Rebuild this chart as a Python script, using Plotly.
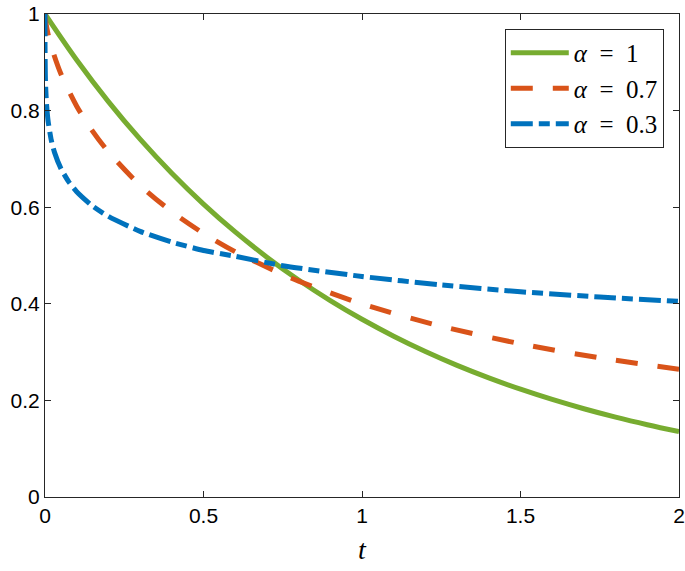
import plotly.graph_objects as go

# alpha = 1
t_a1 = [0, 0.1, 0.2, 0.3, 0.4, 0.5, 0.6, 0.7, 0.8, 0.9, 1.0, 1.1, 1.2, 1.3, 1.4, 1.5, 1.6, 1.7, 1.8, 1.9, 2.0]
y_a1 = [1.0, 0.9048, 0.8187, 0.7408, 0.6703, 0.6065, 0.5488, 0.4966, 0.4493, 0.4066, 0.3679, 0.3329, 0.3012,
        0.2725, 0.2466, 0.2231, 0.2019, 0.1827, 0.1653, 0.1496, 0.1353]

# alpha = 0.7
t_a07 = [0, 0.001, 0.005, 0.01, 0.02, 0.05, 0.1, 0.15, 0.2, 0.3, 0.4, 0.5, 0.6, 0.75, 0.8, 1.0, 1.25, 1.5, 1.75, 2.0]
y_a07 = [1.0, 0.9913, 0.9735, 0.9575, 0.9322, 0.8762, 0.8091, 0.7575, 0.7146, 0.6453, 0.5907, 0.5458, 0.5079,
         0.4608, 0.4471, 0.3997, 0.3535, 0.3172, 0.2881, 0.2646]

# alpha = 0.3
t_a03 = [0, 0.0001, 0.001, 0.002, 0.005, 0.01, 0.02, 0.03, 0.05, 0.075, 0.1, 0.15, 0.2, 0.3, 0.4, 0.5, 0.6,
         0.75, 1.0, 1.25, 1.5, 1.75, 2.0]
y_a03 = [1.0, 0.9339, 0.8756, 0.8508, 0.8118, 0.7773, 0.7383, 0.7135, 0.6803, 0.6525, 0.6321, 0.6024, 0.5809,
         0.5500, 0.5278, 0.5104, 0.4985, 0.4789, 0.4566, 0.4390, 0.4250, 0.4140, 0.4050]

labels = ["<i>α</i>\u2002=\u20021", "<i>α</i>\u2002=\u20020.7", "<i>α</i>\u2002=\u20020.3"]

fig = go.Figure()
fig.add_trace(go.Scatter(x=t_a1, y=y_a1, mode="lines", name=labels[0],
                         line=dict(color="#77AC30", width=5, shape="spline", smoothing=1)))
fig.add_trace(go.Scatter(x=t_a07, y=y_a07, mode="lines", name=labels[1],
                         line=dict(color="#D95319", width=5, dash="22px,20px", shape="spline", smoothing=0.8)))
fig.add_trace(go.Scatter(x=t_a03, y=y_a03, mode="lines", name=labels[2],
                         line=dict(color="#0072BD", width=5, dash="22px,6px,11px,6px", shape="spline", smoothing=0.6)))

axis_common = dict(
    showline=True, linecolor="#262626", linewidth=1, mirror="ticks",
    ticks="inside", ticklen=6, tickcolor="#262626", tickwidth=1,
    showgrid=False, zeroline=False, automargin=False,
    tickfont=dict(family="Liberation Sans, Arial", size=21, color="#000000"),
)

fig.update_layout(
    width=685, height=571,
    margin=dict(l=45, r=6, t=14, b=74),
    paper_bgcolor="white", plot_bgcolor="white",
    xaxis=dict(range=[0, 2], tickvals=[0, 0.5, 1, 1.5, 2], ticktext=["0", "0.5", "1", "1.5", "2"],
               title=dict(text="<i>t</i>", font=dict(family="Liberation Serif, serif", size=28, color="#000"),
                          standoff=13),
               **axis_common),
    yaxis=dict(range=[0, 1], tickvals=[0, 0.2, 0.4, 0.6, 0.8, 1], ticktext=["0", "0.2", "0.4", "0.6", "0.8", "1"],
               **axis_common),
    legend=dict(x=0.976, y=0.969, xanchor="right", yanchor="top",
                bgcolor="white", bordercolor="#262626", borderwidth=1,
                font=dict(family="Liberation Serif, serif", size=25, color="#000"),
                itemwidth=58, tracegroupgap=0),
    showlegend=True,
)

# remove the default page margin so the figure sits at the window's top-left corner
fig.write_html("out.html", config={"displayModeBar": False},
               post_script="document.body.style.margin='0';")
